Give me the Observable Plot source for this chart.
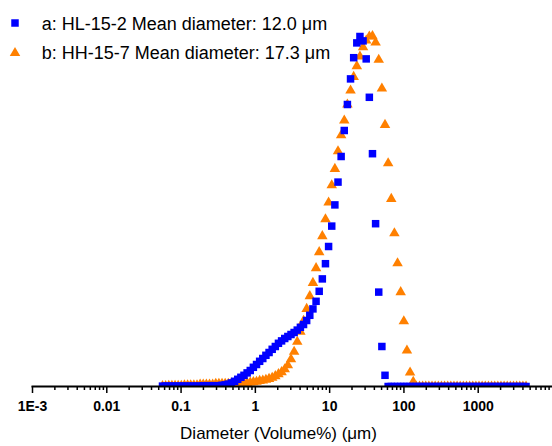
<!DOCTYPE html>
<html><head><meta charset="utf-8">
<script src="https://cdn.jsdelivr.net/npm/d3@7"></script>
<script src="https://cdn.jsdelivr.net/npm/@observablehq/plot@0.6"></script>
<style>
body{margin:0;background:#fff;}
#wrap{position:relative;width:552px;height:446px;font-family:Arial,"Liberation Sans",Helvetica,sans-serif;}
</style></head><body><div id="wrap"></div>
<script>
// Channel diameters (µm), as placed on the reference axis
const diameter = [0.05623,0.06197,0.06831,0.07528,0.08298,0.09141,0.1007,0.1110,0.1224,0.1348,
0.1486,0.1638,0.1805,0.1988,0.2191,0.2415,0.2661,0.2933,0.3232,0.3561,
0.3925,0.4325,0.4767,0.5253,0.5789,0.6379,0.7030,0.7747,0.8537,0.9407,
1.037,1.142,1.259,1.387,1.529,1.685,1.857,2.046,2.255,2.485,
2.738,3.018,3.326,3.665,4.039,4.451,4.905,5.405,5.957,6.564,
7.234,7.972,8.785,9.681,10.67,11.76,12.96,14.28,15.74,17.34,
19.11,21.06,23.21,25.58,28.18,31.06,34.23,37.72,41.56,45.80,
50.48,55.63,61.30,67.55,74.44,82.04,90.41,99.64,109.8,121.0,
133.4,146.9,162.0,178.5,196.7,216.7,238.9,263.2,290.1,319.7,
352.3,388.2,427.8,471.5,519.5,572.6,631.0,695.3,766.2,844.4,
930.5,1025,1130,1245,1372,1512,1667,1837,2024,2231,
2458,2709,2985,3290,3626,3995,4403];

// a: HL-15-2 (volume %)
const volA = [0.01,0.01,0.01,0.01,0.01,0.01,0.01,0.01,0.01,0.01,
0.01,0.01,0.01,0.02,0.02,0.02,0.02,0.02,0.02,0.03,
0.04,0.06,0.09,0.13,0.18,0.23,0.28,0.34,0.40,0.48,
0.55,0.63,0.70,0.78,0.85,0.93,1.00,1.08,1.14,1.20,
1.25,1.30,1.35,1.41,1.48,1.55,1.65,1.78,1.94,2.13,
2.38,2.69,3.07,3.50,4.01,4.54,5.11,5.75,6.40,7.05,
7.69,8.22,8.59,8.75,8.64,8.19,7.23,5.82,4.07,2.36,
1.00,0.28,0,0,0,0,0,0,0,0,
0,0,0,0,0,0,0,0,0,0,
0,0,0,0,0,0,0,0,0,0,
0,0,0,0,0,0,0,0,0,0,
0,0,0,0,0,0,0];

// b: HH-15-7 (volume %)
const volB = [0.01,0.01,0.02,0.02,0.02,0.02,0.02,0.03,0.03,0.03,
0.03,0.03,0.05,0.05,0.05,0.05,0.05,0.07,0.07,0.07,
0.07,0.07,0.08,0.08,0.08,0.08,0.08,0.09,0.10,0.11,
0.12,0.14,0.15,0.17,0.19,0.22,0.26,0.31,0.36,0.43,
0.53,0.68,0.87,1.12,1.37,1.64,1.94,2.26,2.59,2.96,
3.36,3.76,4.18,4.60,5.03,5.44,5.88,6.28,6.65,7.05,
7.40,7.74,8.01,8.25,8.48,8.65,8.75,8.76,8.60,8.17,
7.45,6.54,5.58,4.69,3.83,3.08,2.36,1.63,0.90,0.35,
0.12,0,0,0,0,0,0,0,0,0,
0,0,0,0,0,0,0,0,0,0,
0,0,0,0,0,0,0,0,0,0,
0,0,0,0,0,0,0];

const majorTicks = [1e-3, 1e-2, 1e-1, 1, 10, 100, 1000];
const majorLabels = ["1E-3", "0.01", "0.1", "1", "10", "100", "1000"];
const seriesNames = ["a: HL-15-2 Mean diameter: 12.0 \u03bcm", "b: HH-15-7 Mean diameter: 17.3 \u03bcm"];
const xTitle = "Diameter (Volume%) (\u03bcm)";
const colors = ["#0000FF", "#FF8000"];

const dataA = diameter.map((d, i) => ({d, v: volA[i]}));
const dataB = diameter.map((d, i) => ({d, v: volB[i]}));
const minorTicks = [];
for (let e = -3; e < 4; e++) for (let m = 2; m <= 9; m++) minorTicks.push(m * Math.pow(10, e));

const font = 'Arial,"Liberation Sans",Helvetica,sans-serif';
const rA = 4.23, rB = 3.9;

const chart = Plot.plot({
  width: 552, height: 446,
  marginLeft: 32, marginRight: 0, marginTop: 20, marginBottom: 60,
  style: {fontFamily: font, background: "#fff", color: "#000"},
  x: {type: "log", domain: [1e-3, 1e4]},
  y: {domain: [0, 9.15], axis: null},
  marks: [
    Plot.dot(dataB, {x: "d", y: "v", symbol: "triangle", r: rB, fill: colors[1], stroke: "none", clip: true}),
    Plot.dot(dataA, {x: "d", y: "v", symbol: "square", r: rA, fill: colors[0], stroke: "none", clip: true}),
    Plot.axisX({ticks: minorTicks, tickSize: 4, tickFormat: () => "", label: null, strokeWidth: 1.5}),
    Plot.axisX({ticks: majorTicks, tickSize: 7, tickPadding: 8, tickFormat: d => majorLabels[majorTicks.indexOf(d)], fontSize: 14, fontWeight: "bold", label: null, strokeWidth: 1.5}),
    Plot.frame({anchor: "bottom", strokeWidth: 2}),
    Plot.text([xTitle], {frameAnchor: "bottom", dy: 52, dx: -14, lineAnchor: "bottom", fontSize: 17})
  ]
});

const wrap = document.getElementById("wrap");
wrap.appendChild(chart);

// Legend (overlay)
const leg = d3.create("svg").attr("width", 400).attr("height", 70)
  .style("position", "absolute").style("left", "0px").style("top", "0px");
const legRows = [
  {sym: d3.symbolSquare, r: rA, cy: 23, ty: 30},
  {sym: d3.symbolTriangle, r: rB, cy: 53, ty: 58.5}
];
legRows.forEach((row, i) => {
  leg.append("path").attr("d", d3.symbol(row.sym, Math.PI * row.r * row.r)())
    .attr("transform", `translate(15,${row.cy})`).attr("fill", colors[i]);
  leg.append("text").attr("x", 41.7).attr("y", row.ty).attr("font-size", 18)
    .attr("font-family", font).attr("fill", "#000").text(seriesNames[i]);
});
wrap.appendChild(leg.node());
</script>
</body></html>
